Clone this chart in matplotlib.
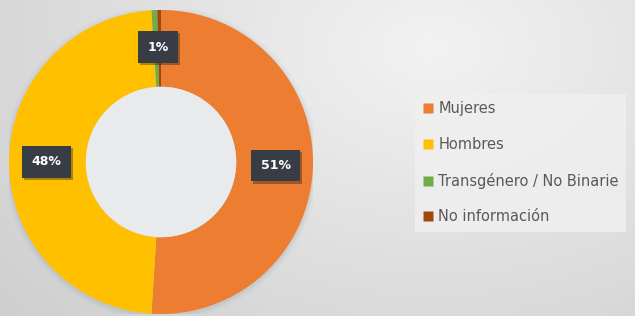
import numpy as np
import matplotlib
matplotlib.use("Agg")
from matplotlib import pyplot as plt
from matplotlib import patheffects
from matplotlib.patches import Circle

categories = ["Mujeres", "Hombres", "Transgénero / No Binarie", "No información"]
values = [51, 48, 0.6, 0.4]
labels = ["51%", "48%", "1%", ""]
colors = ["#ED7D31", "#FFC000", "#70AD47", "#9E480E"]

W, H = 635, 316
fig = plt.figure(figsize=(W / 100, H / 100), dpi=100)

# light gray background, brighter near the top middle-right
bg = fig.add_axes([0, 0, 1, 1])
yy, xx = np.mgrid[1:0:200j, 0:1:400j]
r = np.sqrt(((xx - 0.68) * 1.4) ** 2 + ((yy - 0.85) * 1.0) ** 2)
g = np.clip(0.95 - 0.11 * r, 0, 1)
bg.imshow(np.dstack([g, g, g]), aspect="auto", extent=[0, 1, 0, 1],
          interpolation="bilinear")
bg.set_xlim(0, 1)
bg.set_ylim(0, 1)
bg.axis("off")

cx, cy, rad = 161, 162, 152
ax = fig.add_axes([(cx - rad) / W, (H - cy - rad) / H, 2 * rad / W, 2 * rad / H])
# soft shadow around the ring
for k, a in [(1.035, 0.05), (1.02, 0.07), (1.008, 0.09)]:
    ax.add_patch(Circle((0.0, -0.01), k, fc="#8090a0", ec="none", alpha=a))
wedges, _ = ax.pie(values, colors=colors, startangle=90, counterclock=False,
                   radius=1, wedgeprops=dict(width=0.505, edgecolor="none"))
ax.add_patch(Circle((0, 0), 0.495, fc="#e9eaec", ec="none", zorder=3))
ax.set_xlim(-1, 1)
ax.set_ylim(-1, 1)
ax.set_aspect("equal")
ax.axis("off")

for w, lab in zip(wedges, labels):
    if not lab:
        continue
    ang = np.deg2rad((w.theta1 + w.theta2) / 2)
    if lab == "1%":
        ang = np.deg2rad(w.theta1)
    rr = 0.755
    t = ax.text(rr * np.cos(ang), rr * np.sin(ang), lab, ha="center", va="center",
                color="white", fontsize=9, fontweight="bold", zorder=5,
                bbox=dict(boxstyle="square,pad=0.75", fc="#383c44", ec="none"))
    t.get_bbox_patch().set_path_effects(
        [patheffects.SimplePatchShadow(offset=(1.5, -1.5), alpha=0.35), patheffects.Normal()])

handles = [plt.Line2D([], [], marker="s", linestyle="none", markersize=7,
                      markerfacecolor=c, markeredgecolor="none") for c in colors]
leg = fig.legend(handles, categories, loc="upper left",
                 bbox_to_anchor=(415 / W, 1 - 94 / H), frameon=True, fontsize=10.5,
                 labelcolor="#595959", labelspacing=1.42, handlelength=0.8,
                 handletextpad=0.3, borderaxespad=0, borderpad=0.5, fancybox=False)
leg.get_frame().set_facecolor("#f0f0f0")
leg.get_frame().set_edgecolor("none")

fig.savefig("out.png", dpi=100)
